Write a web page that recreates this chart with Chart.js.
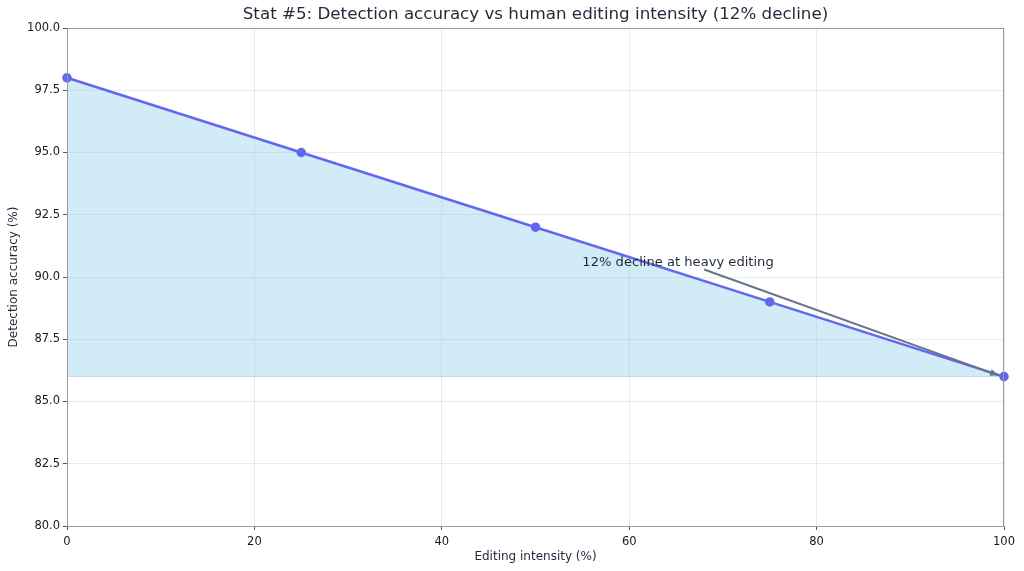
<!DOCTYPE html>
<html>
<head>
<meta charset="utf-8">
<script src="https://cdn.jsdelivr.net/npm/chart.js@4.4.1/dist/chart.umd.min.js"></script>
<style>
  html, body { margin: 0; padding: 0; background: #fff; }
  #wrap { width: 1024px; height: 571px; }
</style>
</head>
<body>
<div id="wrap"><canvas id="chart"></canvas></div>
<script>
const editingIntensity = [0, 25, 50, 75, 100];
const detectionAccuracy = [98, 95, 92, 89, 86];
const fillBase = 86;
const titleText = 'Stat #5: Detection accuracy vs human editing intensity (12% decline)';
const noteText = '12% decline at heavy editing';
const noteAt = [55, 90.45];
const arrowFrom = [68, 90.3];
const arrowTo = [99.4, 86.05];

const FONT = "'DejaVu Sans', sans-serif";

// title, frame and annotation drawn on top of the chart
const extras = {
    id: 'extras',
    afterDraw(chart) {
        const ctx = chart.ctx;
        const a = chart.chartArea;
        const x = chart.scales.x, y = chart.scales.y;
        ctx.save();
        ctx.strokeStyle = '#9a9a9a';
        ctx.lineWidth = 1;
        ctx.strokeRect(a.left + 0.5, a.top + 0.5, a.right - a.left - 1, a.bottom - a.top);

        ctx.fillStyle = '#1e293b';
        ctx.font = '16.7px ' + FONT;
        ctx.textAlign = 'center';
        ctx.textBaseline = 'middle';
        ctx.fillText(titleText, (a.left + a.right) / 2, 15);

        ctx.font = '13.1px ' + FONT;
        ctx.textAlign = 'left';
        ctx.textBaseline = 'alphabetic';
        ctx.fillText(noteText, x.getPixelForValue(noteAt[0]), y.getPixelForValue(noteAt[1]));

        const x1 = x.getPixelForValue(arrowFrom[0]), y1 = y.getPixelForValue(arrowFrom[1]);
        const x2 = x.getPixelForValue(arrowTo[0]), y2 = y.getPixelForValue(arrowTo[1]);
        ctx.strokeStyle = '#64748b';
        ctx.fillStyle = '#64748b';
        ctx.lineWidth = 2;
        ctx.beginPath();
        ctx.moveTo(x1, y1);
        ctx.lineTo(x2, y2);
        ctx.stroke();
        const ang = Math.atan2(y2 - y1, x2 - x1);
        ctx.beginPath();
        ctx.moveTo(x2, y2);
        ctx.lineTo(x2 - 9 * Math.cos(ang - 0.4), y2 - 9 * Math.sin(ang - 0.4));
        ctx.lineTo(x2 - 9 * Math.cos(ang + 0.4), y2 - 9 * Math.sin(ang + 0.4));
        ctx.closePath();
        ctx.fill();
        ctx.restore();
    }
};

new Chart(document.getElementById('chart'), {
    type: 'line',
    data: {
        datasets: [{
            data: editingIntensity.map((v, i) => ({ x: v, y: detectionAccuracy[i] })),
            borderColor: '#6366f1',
            backgroundColor: '#6366f1',
            borderWidth: 2.5,
            pointRadius: 3.5,
            pointHoverRadius: 3.5,
            fill: { value: fillBase, above: 'rgba(135, 206, 235, 0.38)' },
            clip: false
        }]
    },
    options: {
        responsive: true,
        maintainAspectRatio: false,
        animation: false,
        layout: { padding: { top: 28, right: 20, left: 0, bottom: 0 } },
        plugins: { legend: { display: false }, tooltip: { enabled: false } },
        scales: {
            x: {
                type: 'linear',
                min: 0, max: 100,
                ticks: { stepSize: 20, color: '#1a1a1a', font: { family: FONT, size: 11.5 }, padding: 5 },
                grid: { color: 'rgba(0,0,0,0.08)', tickColor: '#555', tickLength: 4 },
                border: { color: '#9a9a9a' },
                title: { display: true, text: 'Editing intensity (%)', color: '#1e293b', font: { family: FONT, size: 12 }, padding: { top: 0, bottom: 7 } },
                afterFit(s) { s.height = 45; }
            },
            y: {
                min: 80, max: 100,
                ticks: { stepSize: 2.5, color: '#1a1a1a', font: { family: FONT, size: 11.5 }, padding: 3,
                    callback: v => v.toFixed(1) },
                grid: { color: 'rgba(0,0,0,0.08)', tickColor: '#555', tickLength: 4 },
                border: { color: '#9a9a9a' },
                title: { display: true, text: 'Detection accuracy (%)', color: '#1e293b', font: { family: FONT, size: 12 }, padding: { top: 7, bottom: 2 } },
                afterFit(s) { s.width = 67; }
            }
        }
    },
    plugins: [extras]
});
</script>
</body>
</html>
